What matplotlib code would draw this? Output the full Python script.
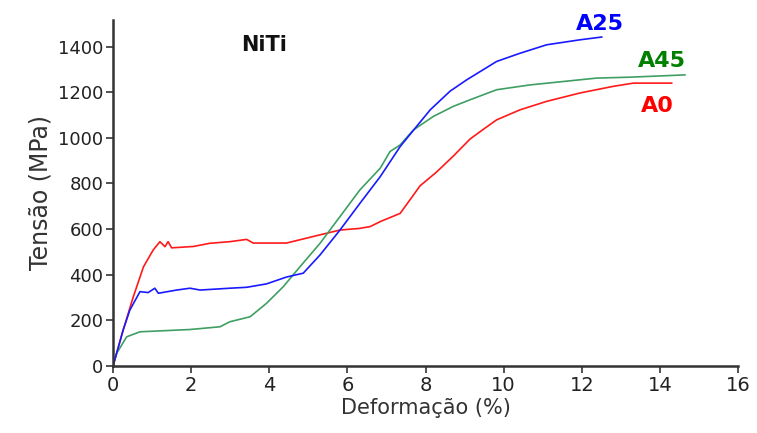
import numpy as np
import matplotlib
matplotlib.use("Agg")
import matplotlib.pyplot as plt

# stress-strain curves: strain (%) / stress (MPa)
a0_x = [0, 0.26, 0.52, 0.78, 1.03, 1.2, 1.33, 1.41, 1.5, 2.06, 2.48, 2.99, 3.42, 3.59,
        4.44, 5.3, 5.81, 6.3, 6.58, 6.84, 7.35, 7.60, 7.86, 8.28, 8.71, 9.14, 9.5, 9.82,
        10.42, 11.10, 11.96, 12.81, 13.32, 14.3]
a0_y = [0, 158, 304, 435, 509, 545, 523, 545, 518, 524, 538, 545, 555, 539,
        539, 575, 596, 603, 611, 633, 669, 728, 790, 850, 920, 995, 1040, 1079,
        1123, 1160, 1197, 1226, 1240, 1240]

a25_x = [0, 0.26, 0.43, 0.69, 0.9, 1.07, 1.16, 1.63, 1.97, 2.23, 2.99, 3.42, 3.93, 4.44,
         4.87, 5.30, 5.81, 6.32, 6.84, 7.35, 7.77, 8.12, 8.63, 9.05, 9.82, 10.42, 11.10,
         11.96, 12.51]
a25_y = [0, 158, 245, 326, 322, 341, 319, 333, 341, 333, 341, 345, 360, 390,
         407, 487, 596, 713, 830, 962, 1050, 1123, 1205, 1254, 1335, 1371, 1408,
         1430, 1442]

a45_x = [0, 0.09, 0.35, 0.69, 0.95, 1.97, 2.74, 2.99, 3.51, 3.93, 4.36, 4.79, 5.30,
         5.81, 6.32, 6.84, 7.09, 7.35, 7.69, 8.2, 8.71, 9.14, 9.82, 10.67, 11.52, 12.38,
         13.23, 14.64]
a45_y = [0, 55, 128, 150, 152, 160, 172, 194, 216, 275, 348, 436, 538,
         655, 772, 867, 940, 969, 1035, 1094, 1138, 1167, 1211, 1232, 1247, 1262,
         1266, 1276]

xticks = np.arange(0, 17, 2)
yticks = np.arange(0, 1401, 200)

fig = plt.figure(figsize=(7.57, 4.33), dpi=100)
ax = fig.add_axes([0.1493, 0.1547, 0.8257, 0.7993])

ax.plot(a0_x, a0_y, color='#ff1a1a', lw=1.2)
ax.plot(a45_x, a45_y, color='#3f9f63', lw=1.2)
ax.plot(a25_x, a25_y, color='#1a1aff', lw=1.2)

# curve labels
ax.text(12.47, 1500, 'A25', color='#0000ff', fontsize=16, fontweight='bold',
        ha='center', va='center', clip_on=False)
ax.text(14.05, 1335, 'A45', color='#008000', fontsize=16, fontweight='bold',
        ha='center', va='center', clip_on=False)
ax.text(13.93, 1140, 'A0', color='#ff0000', fontsize=16, fontweight='bold',
        ha='center', va='center')
ax.text(3.87, 1408, 'NiTi', color='#111111', fontsize=15, fontweight='bold',
        ha='center', va='center')

ax.set_xlim(0, 16)
ax.set_ylim(0, 1517)
ax.set_xticks(xticks)
ax.set_yticks(yticks)
ax.tick_params(length=5, width=1.2, color='#333333', labelcolor='#222222')
ax.tick_params(axis='x', labelsize=14, pad=2)
ax.tick_params(axis='y', labelsize=13, pad=2)
ax.spines['top'].set_visible(False)
ax.spines['right'].set_visible(False)
ax.spines['left'].set_linewidth(1.8)
ax.spines['bottom'].set_linewidth(1.8)
ax.spines['left'].set_color('#333333')
ax.spines['bottom'].set_color('#333333')

ax.set_xlabel('Deformação (%)', fontsize=15, color='#333333', labelpad=2)
ax.set_ylabel('Tensão (MPa)', fontsize=17, color='#333333', labelpad=4)

plt.savefig('out.png', dpi=100)
